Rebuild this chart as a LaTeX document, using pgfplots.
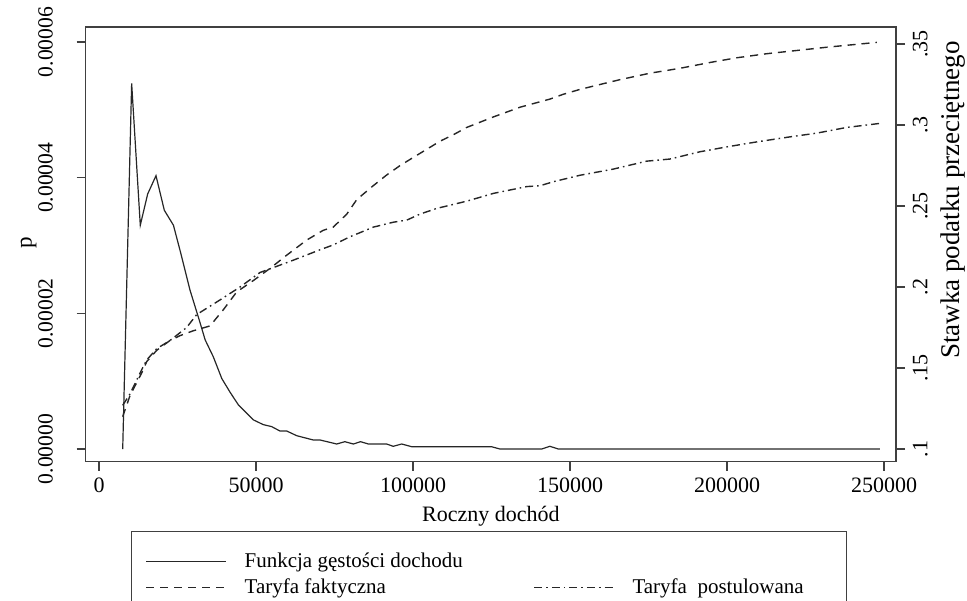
\documentclass[border=0pt]{standalone}
\usepackage{fontspec}
\setmainfont{Liberation Serif}
\usepackage{pgfplots}
\pgfplotsset{compat=1.18}

\pgfplotsset{
  statabox/.style={
    scale only axis,
    width=405.15pt, height=217.35pt,
    xmin=-4236, xmax=253822,
    tick align=outside,
    major tick length=4.5pt,
    /pgf/number format/assume math mode=true,
    axis line style={black!75, line width=0.6pt},
    every tick/.style={black!75, line width=0.6pt},
    scaled ticks=false,
  }
}

\begin{document}
\fontsize{11}{13}\selectfont
\begin{tikzpicture}
\begin{axis}[statabox, name=ax1,
  ymin=-1.87e-6, ymax=6.222e-5,
  xtick pos=bottom, ytick pos=left,
  xtick={0,50000,100000,150000,200000,250000},
  xticklabels={0,50000,100000,150000,200000,250000},
  ytick={0,0.00002,0.00004,0.00006},
  yticklabels={0.00000,0.00002,0.00004,0.00006},
  xticklabel style={anchor=north, yshift=0.5pt, font=\fontsize{11}{13}\selectfont},
  yticklabel style={rotate=90, anchor=south, yshift=8pt, font=\fontsize{10.8}{13}\selectfont},
  xlabel={Roczny dochód}, ylabel={p},
  every axis x label/.style={at={(axis description cs:0.5,-0.125)}, anchor=center,
    font=\fontsize{11}{13}\selectfont},
  every axis y label/.style={at={(axis description cs:-0.0703,0.503)}, anchor=center, rotate=90,
    font=\fontsize{11.5}{13}\selectfont},
]
% funkcja gestosci
\addplot[black!85, line width=0.6pt] coordinates {
(7550,0) (10400,5.39e-5) (13150,3.30e-5) (15500,3.76e-5) (18150,4.03e-5)
(20800,3.52e-5) (23700,3.30e-5) (25800,2.93e-5) (29000,2.34e-5) (32200,1.86e-5)
(33800,1.61e-5) (36400,1.36e-5) (39100,1.04e-5) (41700,8.4e-6) (44400,6.5e-6)
(49150,4.3e-6) (52300,3.6e-6) (55000,3.3e-6) (57650,2.65e-6) (59800,2.65e-6)
(63000,1.96e-6) (68250,1.33e-6) (70400,1.33e-6) (75700,7.4e-7) (78300,1.08e-6)
(81000,7.4e-7) (83300,1.08e-6) (85800,7.4e-7) (91600,7.4e-7) (93700,4.0e-7)
(96400,7.4e-7) (99600,3.4e-7) (125000,3.4e-7) (127700,0) (141000,0)
(143600,4.0e-7) (146300,0) (248700,0)
};
\end{axis}
\begin{axis}[statabox,
  axis x line=none, axis y line*=right,
  ymin=0.0922, ymax=0.3605,
  ytick={0.1,0.15,0.2,0.25,0.3,0.35},
  yticklabels={.1,.15,.2,.25,.3,.35},
  yticklabel style={rotate=90, anchor=north, yshift=0pt, font=\fontsize{11}{13}\selectfont},
  ylabel={Stawka podatku przeciętnego},
  every axis y label/.style={at={(axis description cs:1.0703,0.602)}, anchor=center, rotate=90,
    font=\fontsize{13.5}{15}\selectfont},
  legend columns=2,
  legend cell align=left,
  legend image code/.code={\draw[#1] (0pt,0pt) -- (40pt,0pt);},
  legend style={at={(axis description cs:0,0)}, anchor=north west,
    xshift=22.65pt, yshift=-34.65pt, draw=black!75, line width=0.6pt,
    inner xsep=7pt, inner ysep=8.5pt,
    font=\fontsize{10.5}{12.5}\selectfont,
    /tikz/every odd column/.append style={column sep=5.5pt},
    /tikz/every even column/.append style={column sep=32pt},
    nodes={inner ysep=2pt, inner xsep=3.33pt}},
]
\addlegendimage{black!85, line width=0.6pt}
\addlegendentry{Funkcja gęstości dochodu}
\addlegendimage{empty legend}
\addlegendentry{}
% taryfa faktyczna
\addplot[black!85, line width=0.7pt, dash pattern=on 4pt off 3pt] coordinates {
(7550,0.120) (9870,0.133) (13600,0.147) (15200,0.154) (18400,0.161)
(22600,0.167) (25800,0.170) (30000,0.173) (35350,0.176) (39600,0.186)
(43850,0.197) (49150,0.204) (54460,0.2115) (59800,0.2197) (66150,0.229)
(71400,0.235) (74600,0.237) (78900,0.245) (82100,0.254) (87000,0.262)
(91500,0.269) (95900,0.275) (100100,0.280) (108600,0.290) (112850,0.294)
(117100,0.2985) (125600,0.305) (134100,0.311) (143600,0.316) (147900,0.319)
(153200,0.322) (157400,0.324) (165900,0.328) (175500,0.332) (185000,0.335)
(194600,0.3386) (203100,0.3415) (212600,0.344) (222200,0.346) (231700,0.348)
(237000,0.349) (247700,0.351)
};
\addlegendentry{Taryfa faktyczna}
% taryfa postulowana
\addplot[black!85, line width=0.7pt, dash pattern=on 4pt off 2pt on 0.8pt off 2pt] coordinates {
(7550,0.127) (9870,0.134) (13600,0.149) (15200,0.155) (18400,0.162)
(22600,0.167) (27900,0.175) (31100,0.183) (38500,0.192) (44900,0.200)
(51300,0.209) (57600,0.2135) (61900,0.2166) (70400,0.223) (74600,0.226)
(79900,0.231) (87400,0.237) (93700,0.240) (98000,0.2413) (102200,0.245)
(107500,0.2485) (117100,0.253) (125600,0.2578) (136200,0.262) (140400,0.2625)
(144700,0.265) (153200,0.269) (163800,0.2728) (174400,0.2777) (181800,0.279)
(191400,0.2835) (199900,0.2865) (209500,0.2896) (220100,0.2927) (228600,0.295)
(238100,0.2985) (248700,0.301)
};
\addlegendentry{Taryfa\ \ postulowana\rule{11pt}{0pt}}
\end{axis}
\pgfresetboundingbox
\path[use as bounding box] ([xshift=-42.85pt,yshift=-69.15pt]ax1.south west)
  rectangle ([xshift=440.65pt,yshift=230.85pt]ax1.south west);
\end{tikzpicture}
\end{document}
